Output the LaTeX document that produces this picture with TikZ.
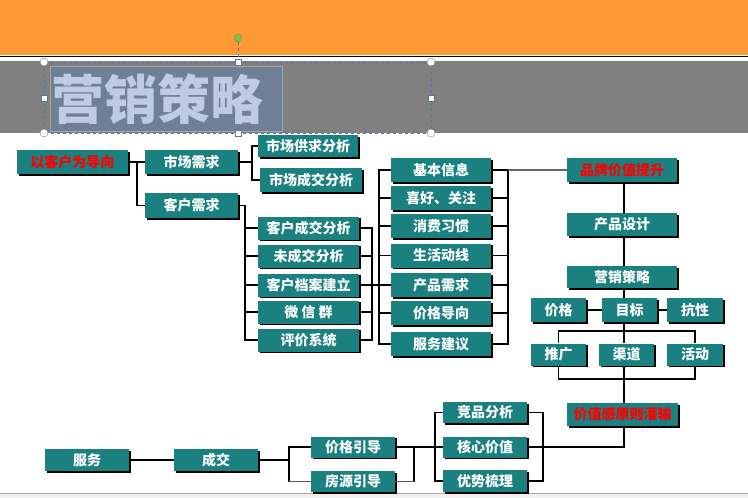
\documentclass[tikz,border=0pt]{standalone}
\usepackage{fontspec}
\setmainfont{Noto Sans CJK SC}
\usetikzlibrary{shadows}
\definecolor{boxteal}{RGB}{26,128,128}
\definecolor{orangebar}{RGB}{255,153,51}
\definecolor{graybar}{RGB}{128,128,128}
\definecolor{titlefill}{RGB}{111,127,150}
\definecolor{titleedge}{RGB}{160,166,176}
\definecolor{titletext}{RGB}{190,203,226}
\definecolor{selblue}{RGB}{90,120,155}
\definecolor{rothandle}{RGB}{120,200,50}

\begin{document}
\begin{tikzpicture}[x=1pt,y=-1pt,
  box/.style 2 args={fill=boxteal,text=white,font=\bfseries\fontsize{14}{16}\selectfont,
    inner sep=0pt,minimum width=#1,minimum height=#2,
    drop shadow={opacity=1,fill=black,shadow xshift=1.6pt,shadow yshift=-1.6pt}},
  redtext/.style={text=red},
  link/.style={line width=1.6pt,black}]
 \useasboundingbox (0,0) rectangle (748,498);
 \fill[orangebar] (0,0) rectangle (748,55);
 \draw[black,line width=1.2pt] (0,56.6) -- (748,56.6);
 \fill[graybar] (0,60.5) rectangle (748,133);
 \fill[black!6] (0,493) rectangle (748,498);
 \draw[black!35] (0,493) -- (748,493);

 \draw[fill=titlefill,draw=titleedge,line width=1pt] (50,66) rectangle (282,131);
 \node[anchor=west,inner sep=0pt,text=titletext,font=\bfseries\fontsize{53}{53}\selectfont] (title) at (51,99) {营销策略};
 \draw[selblue,dashed] (44,62) rectangle (431,133);
 \draw[selblue,dashed] (238,42) -- (238,62);
 \foreach \p in {(44,62),(431,62),(44,133),(431,133)}
  \draw[fill=white,draw=gray] \p circle (4);
 \foreach \p in {(238,62),(238,133),(44,98),(431,98)}
  \draw[fill=white,draw=selblue] \p ++(-3,-3) rectangle ++(6,6);
 \draw[fill=rothandle,draw=gray] (238,38) circle (4);

 \node[box={111}{24},redtext] (guide) at (72.5,162) {以客户为导向};
 \node[box={93}{24}] (mkt) at (191.5,162) {市场需求};
 \node[box={93}{25}] (cust) at (191.5,205.5) {客户需求};
 \node[box={100}{22}] (supply) at (308,146) {市场供求分析};
 \node[box={102}{24}] (deal) at (311,180) {市场成交分析};
 \foreach \y/\t [count=\i] in {228/客户成交分析,256/未成交分析,285/客户档案建立,312/微 信 群,340/评价系统}
  \node[box={101}{23}] (c\i) at (308.5,\y) {\t};
 \foreach \y/\t [count=\i] in {170/基本信息,198/喜好、关注,226/消费习惯,255.5/生活动线,285/产品需求,313/价格导向,344/服务建议}
  \node[box={100}{24}] (m\i) at (441,\y) {\t};

 \node[box={110}{24},redtext] (brand) at (622,170) {品牌价值提升};
 \node[box={110}{23}] (design) at (622,224.5) {产品设计};
 \node[box={110}{22}] (strat) at (622,277) {营销策略};
 \node[box={55}{24}] (price) at (558.5,310) {价格};
 \node[box={55}{24}] (target) at (629.5,310) {目标};
 \node[box={56}{24}] (resist) at (695,310) {抗性};
 \node[box={55}{22}] (push) at (558.5,354.5) {推广};
 \node[box={55}{22}] (channel) at (626.5,354.5) {渠道};
 \node[box={56}{22}] (event) at (695,354.5) {活动};
 \node[box={111}{23},redtext] (value) at (622.5,414.5) {价值感原则灌输};

 \node[box={84}{22}] (service) at (87,460) {服务};
 \node[box={84}{22}] (close) at (216,460) {成交};
 \node[box={84}{21}] (pguide) at (353,447) {价格引导};
 \node[box={84}{21}] (hguide) at (353,481.5) {房源引导};
 \node[box={84}{21}] (comp) at (485,412.5) {竞品分析};
 \node[box={84}{21}] (core) at (485,447) {核心价值};
 \node[box={84}{22}] (adv) at (485,481) {优势梳理};

 \coordinate (gsp) at (137,162);
 \draw[link] (guide.east) -- (gsp) -- (mkt.west);
 \draw[link] (gsp) |- (cust.west);
 \coordinate (msp) at (252,162);
 \draw[link] (mkt.east) -- (msp);
 \draw[link] (supply.west) -| (msp) |- (deal.west);
 \coordinate (csp) at (245,205.5);
 \draw[link] (cust.east) -- (csp) |- (c5.west);
 \foreach \i in {1,...,4}
  \draw[link] (csp |- c\i.west) -- (c\i.west);
 \coordinate (crs) at (372,228);
 \draw[link] (c1.east) -- (crs) |- (c5.east);
 \foreach \i in {2,4}
  \draw[link] (c\i.east) -- (crs |- c\i.east);
 \draw[link] (c3.east) -- (m5.west);
 \coordinate (mls) at (379,170);
 \draw[link] (m1.west) -- (mls) |- (m7.west);
 \foreach \i in {2,...,6}
  \draw[link] (mls |- m\i.west) -- (m\i.west);
 \coordinate (mrs) at (508,170);
 \draw[link] (m1.east) -- (mrs) |- (m7.east);
 \foreach \i in {2,...,6}
  \draw[link] (m\i.east) -- (mrs |- m\i.east);
 \draw[line width=1.6pt,black!60] (mrs) -- (brand.west);

 \coordinate (rx) at (624,0);
 \draw[link] (rx |- brand.south) -- (rx |- design.north);
 \draw[link] (rx |- design.south) -- (rx |- strat.north);
 \draw[link] (rx |- strat.south) -- (rx |- target.north);
 \draw[link] (price.east) -- (target.west);
 \draw[link] (target.east) -- (resist.west);
 \coordinate (top) at (624,331);
 \coordinate (bot) at (624,379);
 \draw[link] (rx |- target.south) -- (rx |- channel.north);
 \draw[link] (push.north) -- (push.north |- top) -| (event.north);
 \draw[link] (push.south) -- (push.south |- bot) -| (event.south);
 \draw[link] (rx |- channel.south) -- (rx |- value.north);
 \draw[link] (rx |- value.south) |- (core.east);

 \draw[link] (service.east) -- (close.west);
 \coordinate (bsp) at (289,460);
 \draw[link] (close.east) -- (bsp);
 \draw[link] (pguide.west) -| (bsp) -- (bsp |- hguide.west);
 \draw[line width=1.6pt,black!65] (bsp |- hguide.west) -- (hguide.west);
 \draw[link] (pguide.east) -- (core.west);
 \coordinate (psp) at (414,447);
 \draw[link] (psp) -- (psp |- hguide.east);
 \draw[line width=1.6pt,black!65] (psp |- hguide.east) -- (hguide.east);
 \coordinate (lsp) at (435,412.5);
 \draw[link] (comp.west) -- (lsp) |- (adv.west);
 \coordinate (rsp) at (543,412.5);
 \draw[link] (comp.east) -- (rsp) |- (adv.east);
\end{tikzpicture}
\end{document}
